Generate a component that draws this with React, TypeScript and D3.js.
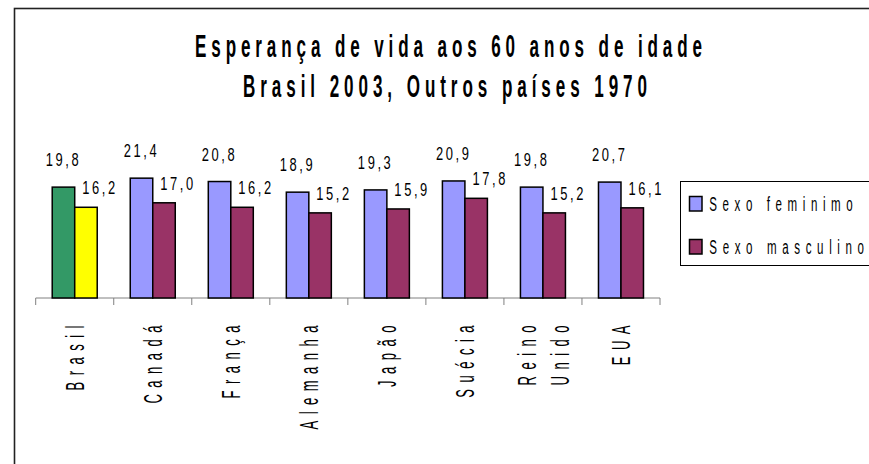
import React from "react";
import * as d3 from "d3";

const countries = ["Brasil", "Canadá", "França", "Alemanha", "Japão", "Suécia", "Reino Unido", "EUA"];
const female = [19.8, 21.4, 20.8, 18.9, 19.3, 20.9, 19.8, 20.7];
const male = [16.2, 17.0, 16.2, 15.2, 15.9, 17.8, 15.2, 16.1];
const seriesNames = ["Sexo feminimo", "Sexo masculino"];
const titleLines = ["Esperança de vida aos 60 anos de idade", "Brasil 2003, Outros países 1970"];

const FEMALE = "#9999FF";
const MALE = "#993366";
const BR_FEMALE = "#339966";
const BR_MALE = "#FFFF00";
const FONT = "'Liberation Sans', Arial, sans-serif";

const fmt = (v: number) => v.toFixed(1).replace(".", ",");

// condensed text: glyphs squeezed along the writing direction
const CText = ({ x, y, rotate = 0, sx = 0.7, size, weight = "normal", anchor = "start", ls = 0, length, children }: any) => (
  <text
    transform={`translate(${x},${y}) rotate(${rotate}) scale(${sx},1)`}
    fontFamily={FONT}
    fontSize={size}
    fontWeight={weight}
    textAnchor={anchor}
    letterSpacing={ls ? ls / sx : undefined}
    textLength={length ? length / sx : undefined}
    lengthAdjust={length ? "spacing" : undefined}
    fill="#000"
  >
    {children}
  </text>
);

const App = () => {
  const width = 869;
  const height = 464;
  const baseY = 298;

  const x = d3.scaleBand().domain(countries).range([35.7, 660]).paddingInner(0).paddingOuter(0);
  const groupPad = (x.bandwidth() - 45) / 2;
  const xSub = d3.scaleBand().domain(["f", "m"]).range([groupPad, groupPad + 45]);
  const y = d3.scaleLinear().domain([0, 25]).range([baseY, 158]);

  const ticks = [...countries.map((c) => x(c) as number), (x(countries[countries.length - 1]) as number) + x.bandwidth()];

  return (
    <svg width={width} height={height} style={{ position: "absolute", left: 0, top: 0 }}>
      <rect x={0} y={0} width={width} height={height} fill="#fff" />
      <rect x={14.5} y={8.5} width={1000} height={600} fill="none" stroke="#222" strokeWidth={1.6} />

      <CText x={195} y={57} size={31} weight="bold" sx={0.55} length={507}>{titleLines[0]}</CText>
      <CText x={243} y={97} size={31} weight="bold" sx={0.55} length={404}>{titleLines[1]}</CText>

      {/* axis */}
      <line x1={ticks[0]} x2={ticks[ticks.length - 1]} y1={baseY} y2={baseY} stroke="#808080" strokeWidth={1} />
      {ticks.map((t, i) => (
        <line key={i} x1={t} x2={t} y1={baseY} y2={baseY + 7} stroke="#808080" strokeWidth={1} />
      ))}

      {/* bars */}
      {countries.map((c, i) => {
        const gx = x(c) as number;
        const fx = gx + (xSub("f") as number);
        const mx = gx + (xSub("m") as number);
        const bw = xSub.bandwidth();
        return (
          <g key={c}>
            <rect x={fx} y={y(female[i])} width={bw} height={baseY - y(female[i])}
              fill={i === 0 ? BR_FEMALE : FEMALE} stroke="#000" strokeWidth={1.5} />
            <rect x={mx} y={y(male[i])} width={bw} height={baseY - y(male[i])}
              fill={i === 0 ? BR_MALE : MALE} stroke="#000" strokeWidth={1.5} />
            <CText x={fx + bw / 2} y={y(female[i]) - 21} size={19} sx={0.68} anchor="middle" ls={2.6}>{fmt(female[i])}</CText>
            <CText x={mx + bw / 2 + 14} y={y(male[i]) - 13} size={19} sx={0.68} anchor="middle" ls={2.6}>{fmt(male[i])}</CText>
          </g>
        );
      })}

      {/* category labels */}
      {countries.map((c) => {
        const cx = (x(c) as number) + x.bandwidth() / 2;
        const words = c.split(" ");
        return words.map((w, j) => (
          <CText key={c + j} x={cx + 9.5 + (j - (words.length - 1) / 2) * 33} y={319} rotate={-90}
            size={26} sx={0.5} anchor="end" ls={6.5}>{w}</CText>
        ));
      })}

      {/* legend */}
      <rect x={680.5} y={181.5} width={300} height={84} fill="#fff" stroke="#000" strokeWidth={1} />
      <rect x={689.5} y={196.5} width={12.5} height={14.5} fill={FEMALE} stroke="#000" strokeWidth={1.5} />
      <rect x={689.5} y={239.5} width={12.5} height={14.5} fill={MALE} stroke="#000" strokeWidth={1.5} />
      <CText x={709.3} y={211} size={21} sx={0.55} length={143.4}>{seriesNames[0]}</CText>
      <CText x={709.3} y={254} size={21} sx={0.55} length={154.7}>{seriesNames[1]}</CText>
    </svg>
  );
};

export default App;
